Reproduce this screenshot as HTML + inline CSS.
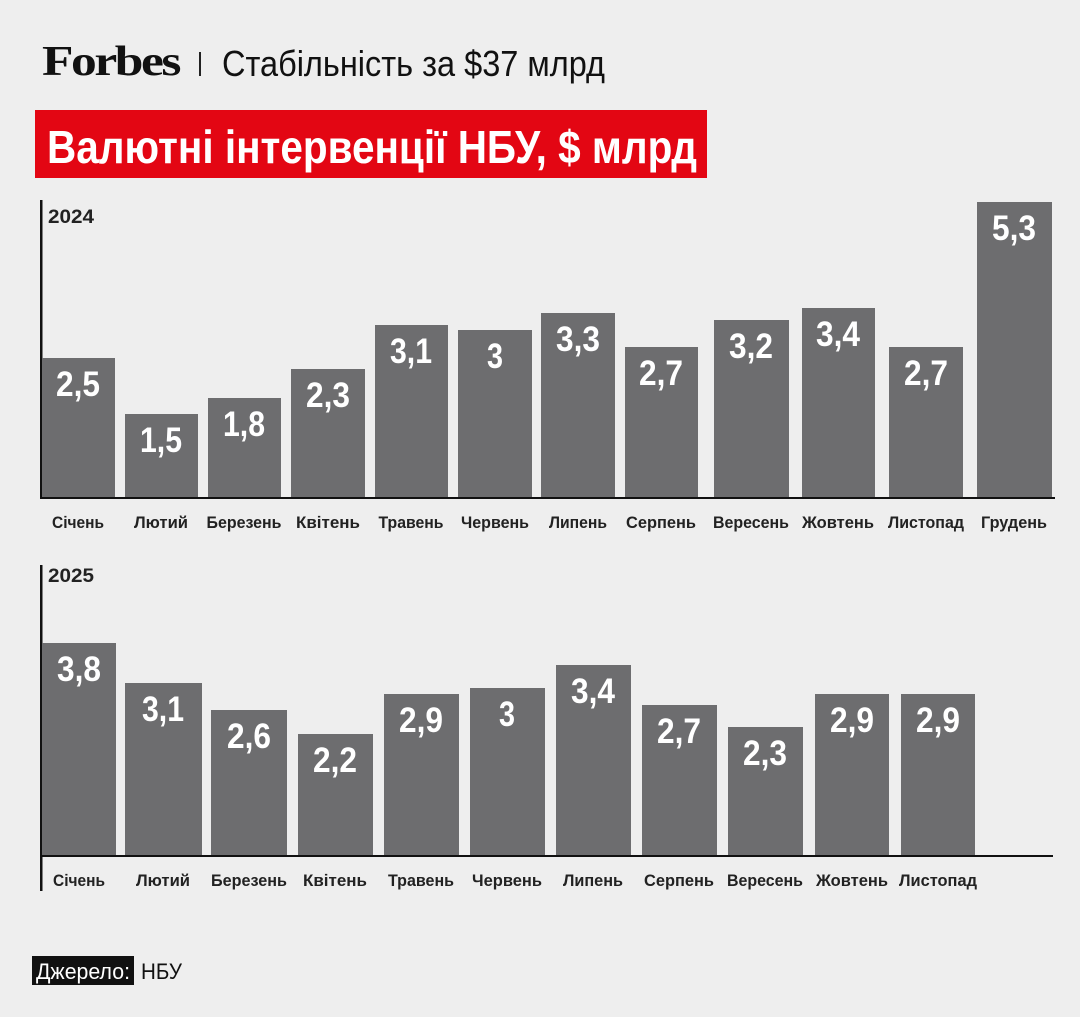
<!DOCTYPE html>
<html><head><meta charset="utf-8"><style>
html,body{margin:0;padding:0;background:#eeeeee;}
svg{display:block;}
text{font-family:"Liberation Sans Narrow","Liberation Sans",sans-serif;}
.v{fill:#fff;font-weight:bold;font-size:35px;text-anchor:middle;}
.m{fill:#222;font-weight:bold;font-size:17px;text-anchor:middle;}
</style></head><body>
<svg width="1080" height="1017" viewBox="0 0 1080 1017">
<rect width="1080" height="1017" fill="#eeeeee"/>
<text x="42" y="75" style="font-family:'Liberation Serif',serif;font-weight:bold;font-size:42px;letter-spacing:-2px" textLength="137" lengthAdjust="spacingAndGlyphs" fill="#111">Forbes</text>
<rect x="199" y="52" width="2" height="24" fill="#222"/>
<text x="222" y="76" font-size="36" fill="#111" textLength="383" lengthAdjust="spacingAndGlyphs">Стабільність за $37 млрд</text>
<rect x="35" y="110" width="672" height="68" fill="#e30613"/>
<text x="47" y="163" font-size="46" font-weight="bold" fill="#fff" textLength="650" lengthAdjust="spacingAndGlyphs">Валютні інтервенції НБУ, $ млрд</text>

<!-- 2024 -->
<rect x="40" y="200" width="2.5" height="298" fill="#111"/>
<rect x="40" y="497" width="1015" height="2" fill="#111"/>
<text x="48" y="223" font-size="19" font-weight="bold" fill="#222" textLength="46" lengthAdjust="spacingAndGlyphs">2024</text>
<g fill="#6d6d6f">
<rect x="42" y="358" width="73" height="139"/>
<rect x="125" y="414" width="73" height="83"/>
<rect x="208" y="398" width="73" height="99"/>
<rect x="291" y="369" width="74" height="128"/>
<rect x="375" y="325" width="73" height="172"/>
<rect x="458" y="330" width="74" height="167"/>
<rect x="541" y="313" width="74" height="184"/>
<rect x="625" y="347" width="73" height="150"/>
<rect x="714" y="320" width="75" height="177"/>
<rect x="802" y="308" width="73" height="189"/>
<rect x="889" y="347" width="74" height="150"/>
<rect x="977" y="202" width="75" height="295"/>
</g>
<g>
<text x="78" y="396" class="v" textLength="44" lengthAdjust="spacingAndGlyphs">2,5</text>
<text x="161" y="452" class="v" textLength="42" lengthAdjust="spacingAndGlyphs">1,5</text>
<text x="244" y="436" class="v" textLength="42" lengthAdjust="spacingAndGlyphs">1,8</text>
<text x="328" y="407" class="v" textLength="44" lengthAdjust="spacingAndGlyphs">2,3</text>
<text x="411" y="363" class="v" textLength="42" lengthAdjust="spacingAndGlyphs">3,1</text>
<text x="495" y="368" class="v" textLength="16" lengthAdjust="spacingAndGlyphs">3</text>
<text x="578" y="351" class="v" textLength="44" lengthAdjust="spacingAndGlyphs">3,3</text>
<text x="661" y="385" class="v" textLength="44" lengthAdjust="spacingAndGlyphs">2,7</text>
<text x="751" y="358" class="v" textLength="44" lengthAdjust="spacingAndGlyphs">3,2</text>
<text x="838" y="346" class="v" textLength="44" lengthAdjust="spacingAndGlyphs">3,4</text>
<text x="926" y="385" class="v" textLength="44" lengthAdjust="spacingAndGlyphs">2,7</text>
<text x="1014" y="240" class="v" textLength="44" lengthAdjust="spacingAndGlyphs">5,3</text>
</g>
<g>
<text x="78" y="528" class="m" textLength="52" lengthAdjust="spacingAndGlyphs">Січень</text>
<text x="161" y="528" class="m" textLength="54" lengthAdjust="spacingAndGlyphs">Лютий</text>
<text x="244" y="528" class="m" textLength="75" lengthAdjust="spacingAndGlyphs">Березень</text>
<text x="328" y="528" class="m" textLength="64" lengthAdjust="spacingAndGlyphs">Квітень</text>
<text x="411" y="528" class="m" textLength="65" lengthAdjust="spacingAndGlyphs">Травень</text>
<text x="495" y="528" class="m" textLength="68" lengthAdjust="spacingAndGlyphs">Червень</text>
<text x="578" y="528" class="m" textLength="58" lengthAdjust="spacingAndGlyphs">Липень</text>
<text x="661" y="528" class="m" textLength="70" lengthAdjust="spacingAndGlyphs">Серпень</text>
<text x="751" y="528" class="m" textLength="76" lengthAdjust="spacingAndGlyphs">Вересень</text>
<text x="838" y="528" class="m" textLength="72" lengthAdjust="spacingAndGlyphs">Жовтень</text>
<text x="926" y="528" class="m" textLength="76" lengthAdjust="spacingAndGlyphs">Листопад</text>
<text x="1014" y="528" class="m" textLength="66" lengthAdjust="spacingAndGlyphs">Грудень</text>
</g>

<!-- 2025 -->
<rect x="40" y="565" width="2.5" height="326" fill="#111"/>
<rect x="40" y="855" width="1013" height="2" fill="#111"/>
<text x="48" y="582" font-size="19" font-weight="bold" fill="#222" textLength="46" lengthAdjust="spacingAndGlyphs">2025</text>
<g fill="#6d6d6f">
<rect x="42" y="643" width="74" height="212"/>
<rect x="125" y="683" width="77" height="172"/>
<rect x="211" y="710" width="76" height="145"/>
<rect x="298" y="734" width="75" height="121"/>
<rect x="384" y="694" width="75" height="161"/>
<rect x="470" y="688" width="75" height="167"/>
<rect x="556" y="665" width="75" height="190"/>
<rect x="642" y="705" width="75" height="150"/>
<rect x="728" y="727" width="75" height="128"/>
<rect x="815" y="694" width="74" height="161"/>
<rect x="901" y="694" width="74" height="161"/>
</g>
<g>
<text x="79" y="681" class="v" textLength="44" lengthAdjust="spacingAndGlyphs">3,8</text>
<text x="163" y="721" class="v" textLength="42" lengthAdjust="spacingAndGlyphs">3,1</text>
<text x="249" y="748" class="v" textLength="44" lengthAdjust="spacingAndGlyphs">2,6</text>
<text x="335" y="772" class="v" textLength="44" lengthAdjust="spacingAndGlyphs">2,2</text>
<text x="421" y="732" class="v" textLength="44" lengthAdjust="spacingAndGlyphs">2,9</text>
<text x="507" y="726" class="v" textLength="16" lengthAdjust="spacingAndGlyphs">3</text>
<text x="593" y="703" class="v" textLength="44" lengthAdjust="spacingAndGlyphs">3,4</text>
<text x="679" y="743" class="v" textLength="44" lengthAdjust="spacingAndGlyphs">2,7</text>
<text x="765" y="765" class="v" textLength="44" lengthAdjust="spacingAndGlyphs">2,3</text>
<text x="852" y="732" class="v" textLength="44" lengthAdjust="spacingAndGlyphs">2,9</text>
<text x="938" y="732" class="v" textLength="44" lengthAdjust="spacingAndGlyphs">2,9</text>
</g>
<g>
<text x="79" y="886" class="m" textLength="52" lengthAdjust="spacingAndGlyphs">Січень</text>
<text x="163" y="886" class="m" textLength="54" lengthAdjust="spacingAndGlyphs">Лютий</text>
<text x="249" y="886" class="m" textLength="76" lengthAdjust="spacingAndGlyphs">Березень</text>
<text x="335" y="886" class="m" textLength="64" lengthAdjust="spacingAndGlyphs">Квітень</text>
<text x="421" y="886" class="m" textLength="66" lengthAdjust="spacingAndGlyphs">Травень</text>
<text x="507" y="886" class="m" textLength="70" lengthAdjust="spacingAndGlyphs">Червень</text>
<text x="593" y="886" class="m" textLength="60" lengthAdjust="spacingAndGlyphs">Липень</text>
<text x="679" y="886" class="m" textLength="70" lengthAdjust="spacingAndGlyphs">Серпень</text>
<text x="765" y="886" class="m" textLength="76" lengthAdjust="spacingAndGlyphs">Вересень</text>
<text x="852" y="886" class="m" textLength="72" lengthAdjust="spacingAndGlyphs">Жовтень</text>
<text x="938" y="886" class="m" textLength="78" lengthAdjust="spacingAndGlyphs">Листопад</text>
</g>

<rect x="32" y="956" width="102" height="29" fill="#111"/>
<text x="36" y="979" font-size="22" fill="#fff" textLength="94" lengthAdjust="spacingAndGlyphs">Джерело:</text>
<text x="141" y="979" font-size="22" fill="#111" textLength="41" lengthAdjust="spacingAndGlyphs">НБУ</text>
</svg>
</body></html>
